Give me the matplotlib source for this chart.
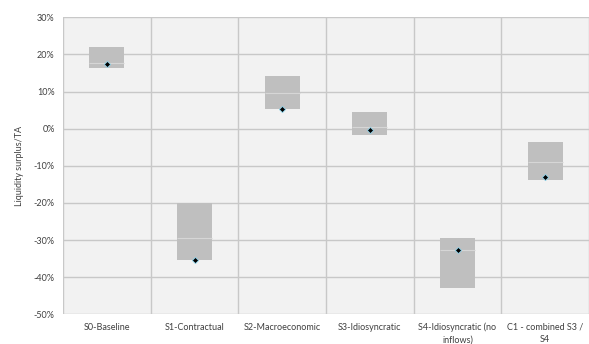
import matplotlib.pyplot as plt
import numpy as np

categories = ["S0-Baseline", "S1-Contractual", "S2-Macroeconomic", "S3-Idiosyncratic",
              "S4-Idiosyncratic (no\ninflows)", "C1 - combined S3 /\nS4"]
low = [16.4, -35.4, 5.2, -1.6, -43.0, -13.8]
high = [22.1, -20.1, 14.1, 4.4, -29.5, -3.6]
median = [17.7, -29.5, 9.5, 0.5, -32.7, -9.1]
point = [17.4, -35.4, 5.2, -0.4, -32.6, -12.9]

plt.rcParams['font.family'] = ['Lato', 'DejaVu Sans']

fig = plt.figure(figsize=(5.89, 3.44), dpi=100)
ax = fig.add_axes([0.107, 0.0863, 0.893, 0.8634])
ax.set_facecolor('#f2f2f2')

x = np.arange(len(categories))
width = 0.4
ax.bar(x, np.array(high) - np.array(low), width, bottom=low, color='#bfbfbf', zorder=3)
ax.hlines(median, x - width / 2, x + width / 2, color='#d6d6d6', lw=0.8, zorder=4)
ax.plot(x, point, 'D', ms=3.2, mfc='black', mec='#8fd3ea', mew=0.6, ls='none', zorder=5)

ax.set_xlim(-0.5, len(categories) - 0.5)
ax.set_ylim(-50, 30)
ax.set_yticks(np.arange(-50, 31, 10))
ax.set_yticklabels([f"{v}%" for v in range(-50, 31, 10)])
ax.set_xticks(x)
ax.set_xticklabels(categories, va='top', linespacing=1.5)
ax.set_xticks(np.arange(-0.5, len(categories), 1), minor=True)
ax.tick_params(axis='both', length=0, labelsize=6.5, colors='#404040', pad=6)
ax.tick_params(axis='x', which='both', length=0, pad=6)
ax.grid(axis='y', color='#c8c8c8', lw=1, zorder=1)
ax.grid(axis='x', which='minor', color='#c8c8c8', lw=1, zorder=1)
for s in ax.spines.values():
    s.set_visible(False)
ax.set_ylabel('Liquidity surplus/TA', fontsize=6.5, color='#404040', labelpad=7)

fig.savefig('out.png', dpi=100)
